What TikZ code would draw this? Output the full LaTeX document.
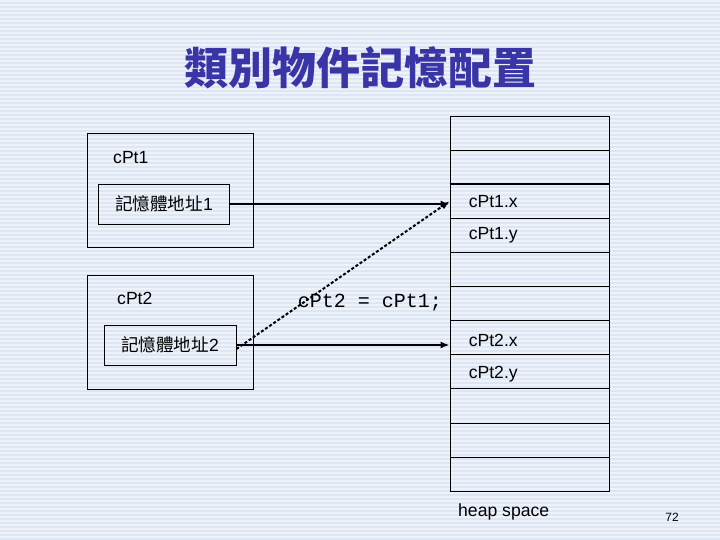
\documentclass[tikz,border=0pt]{standalone}
\usepackage{fontspec}
\setmainfont{Liberation Sans}
\setmonofont{Liberation Mono}
\newfontfamily\cjk{Noto Sans CJK TC}
\usetikzlibrary{positioning, arrows.meta, calc}
\definecolor{slidebg}{HTML}{DDE6F3}
\definecolor{titleblue}{HTML}{3A35A6}

\begin{document}
\begin{tikzpicture}[x=1pt, y=-1pt,
          frame/.style={draw, thick, minimum width=166pt, minimum height=114pt, inner sep=0pt},
          addr/.style={draw, thick, minimum width=131pt, minimum height=40pt, inner sep=0pt, font=\fontsize{17.6}{20}\selectfont},
          cell/.style={draw, thick, minimum width=159pt, minimum height=34.1pt, inner sep=0pt},
          lbl/.style={font=\fontsize{17.6}{20}\selectfont, inner sep=0pt},
          arr/.style={-{Latex[length=9pt, width=7pt]}, line width=2pt}]
        % background
        \fill[slidebg] (0,0) rectangle (720,540);
        \foreach \y in {0,4,...,536}
          \fill[white, opacity=0.55] (0,\y) rectangle (720,\y+2);
        \useasboundingbox (0,0) rectangle (720,540);
        \node[font=\cjk\bfseries\fontsize{44}{48}\selectfont, text=titleblue] (title) at (360,68) {類別物件記憶配置};
        % stack side
        \node[frame] (p1) at (170,190) {};
        \node[lbl, anchor=west] (n1) at (113,158) {cPt1};
        \node[addr] (in1) at (164,204) {{\cjk 記憶體地址}1};
        \node[frame] (p2) at (170,332) {};
        \node[lbl, anchor=west] (n2) at (117,298) {cPt2};
        \node[addr, minimum width=132pt] (in2) at (170,345) {{\cjk 記憶體地址}2};
        % heap side
        \foreach \i in {0,...,10}
          \node[cell] (h\i) at (529.5,133.05+34.1*\i) {};
        \draw[line width=2pt] (h2.north west) -- (h2.north east);
        \node[lbl, right=19pt of h2.west] (x1) {cPt1.x};
        \node[lbl, right=19pt of h3.west] (y1) {cPt1.y};
        \node[lbl, right=19pt of h6.west, yshift=-3pt] (x2) {cPt2.x};
        \node[lbl, right=19pt of h7.west, yshift=-2pt] (y2) {cPt2.y};
        \node[lbl, anchor=west] (heap) at (458,512) {heap space};
        \node[font=\ttfamily\fontsize{20}{22}\selectfont, inner sep=0pt] (code) at (370,303) {cPt2 = cPt1;};
        \draw[arr] (in1.east) -- (in1.east -| h2.west);
        \draw[arr] (in2.east) -- (in2.east -| h6.west);
        \draw[arr, dash pattern=on 3pt off 2pt] ([yshift=-4pt]in2.east) -- (h2.west);
        \node[font=\fontsize{12}{14}\selectfont] (page) at (672,517) {72};
      \end{tikzpicture}
\end{document}
